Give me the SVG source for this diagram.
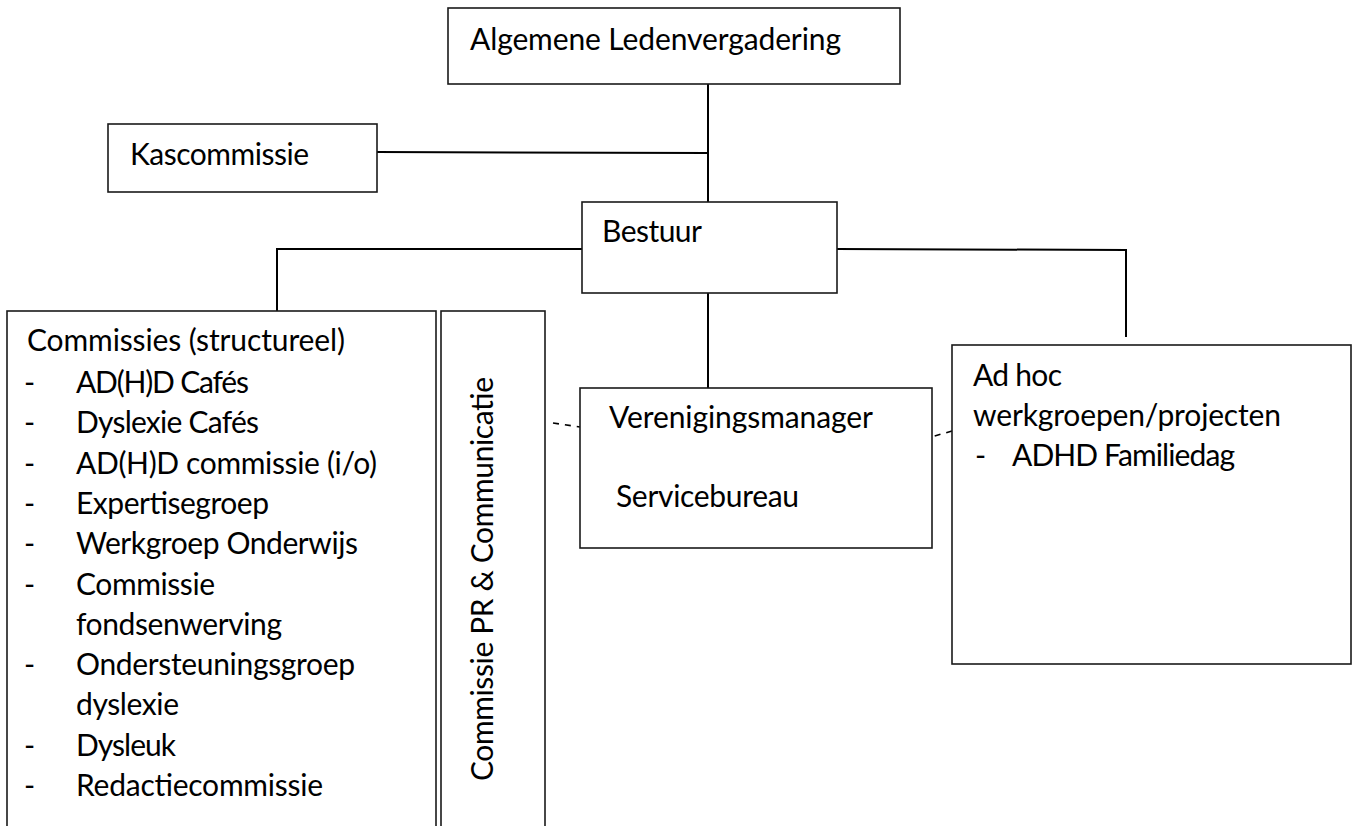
<svg xmlns="http://www.w3.org/2000/svg" width="1352" height="826" viewBox="0 0 1352 826">
  <style>
    .box { fill: #ffffff; stroke: #1a1a1a; stroke-width: 1.6; }
    .con { fill: none; stroke: #000000; stroke-width: 2; }
    .dash { fill: none; stroke: #000000; stroke-width: 1.6; stroke-dasharray: 6 6; }
    text { font-family: Lato, "Open Sans", "Liberation Sans", sans-serif; font-size: 30px; fill: #000000; }
  </style>
  <rect x="0" y="0" width="1352" height="826" fill="#ffffff"/>

  <g id="connectors">
    <line class="con" x1="708" y1="84" x2="708" y2="202"/>
    <line class="con" x1="377" y1="152" x2="708" y2="153"/>
    <polyline class="con" points="582,249 277,249 277,334"/>
    <line class="con" x1="708" y1="293" x2="708" y2="388"/>
    <polyline class="con" points="837,249 1126,250 1126,337"/>
    <line class="dash" x1="553" y1="423" x2="580" y2="427"/>
    <line class="dash" x1="952" y1="431" x2="931" y2="437"/>
  </g>

  <g id="node-alv">
    <rect class="box" x="448" y="8" width="452" height="76"/>
    <text x="470" y="50" textLength="371">Algemene Ledenvergadering</text>
  </g>

  <g id="node-kascommissie">
    <rect class="box" x="108" y="124" width="269" height="68"/>
    <text x="130" y="165" textLength="179">Kascommissie</text>
  </g>

  <g id="node-bestuur">
    <rect class="box" x="582" y="202" width="255" height="91"/>
    <text x="602" y="242" textLength="100">Bestuur</text>
  </g>

  <g id="node-commissies">
    <rect class="box" x="7" y="311" width="429" height="530"/>
    <text x="27" y="351" textLength="318">Commissies (structureel)</text>
    <text x="24" y="393">-</text><text x="76" y="393" textLength="173">AD(H)D Cafés</text>
    <text x="24" y="433.3">-</text><text x="76" y="433.3" textLength="183">Dyslexie Cafés</text>
    <text x="24" y="473.6">-</text><text x="76" y="473.6" textLength="301">AD(H)D commissie (i/o)</text>
    <text x="24" y="513.9">-</text><text x="76" y="513.9" textLength="193">Expertisegroep</text>
    <text x="24" y="554.2">-</text><text x="76" y="554.2" textLength="282">Werkgroep Onderwijs</text>
    <text x="24" y="594.5">-</text><text x="76" y="594.5" textLength="139">Commissie</text>
    <text x="76" y="634.8" textLength="206">fondsenwerving</text>
    <text x="24" y="675.1">-</text><text x="76" y="675.1" textLength="279">Ondersteuningsgroep</text>
    <text x="76" y="715.4" textLength="103">dyslexie</text>
    <text x="24" y="755.7">-</text><text x="76" y="755.7" textLength="100">Dysleuk</text>
    <text x="24" y="796">-</text><text x="76" y="796" textLength="247">Redactiecommissie</text>
  </g>

  <g id="node-pr">
    <rect class="box" x="441" y="311" width="104" height="530"/>
    <text transform="translate(493,781) rotate(-90)" textLength="404">Commissie PR &amp; Communicatie</text>
  </g>

  <g id="node-verenigingsmanager">
    <rect class="box" x="580" y="388" width="352" height="160"/>
    <text x="609" y="428" textLength="264">Verenigingsmanager</text>
    <text x="616" y="506.5" textLength="183">Servicebureau</text>
  </g>

  <g id="node-adhoc">
    <rect class="box" x="952" y="345" width="399" height="319"/>
    <text x="973" y="386" textLength="89">Ad hoc</text>
    <text x="973" y="425.5" textLength="308">werkgroepen/projecten</text>
    <text x="975" y="465.5">-</text><text x="1012" y="465.5" textLength="223">ADHD Familiedag</text>
  </g>
</svg>
